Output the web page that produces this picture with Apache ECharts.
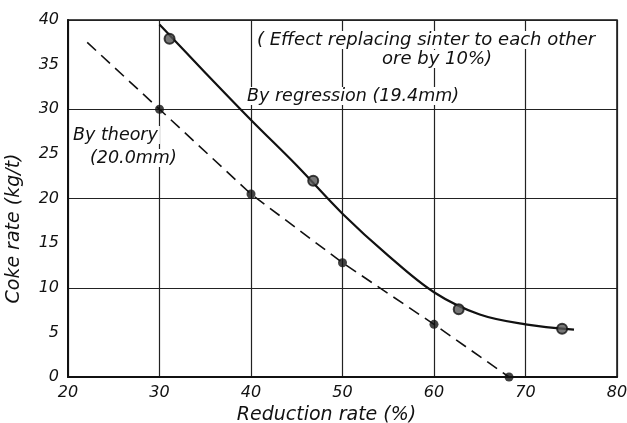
<!DOCTYPE html>
<html><head><meta charset="utf-8">
<script src="https://cdn.jsdelivr.net/npm/echarts@6/dist/echarts.min.js"></script>
<style>html,body{margin:0;padding:0;background:#fff}#c{width:627px;height:423px}</style>
</head><body><div id="c"></div>
<script>
// Data
const xTicks = [20, 30, 40, 50, 60, 70, 80];
const yTicks = [0, 5, 10, 15, 20, 25, 30, 35, 40];
// By theory (20.0 mm): dashed line and its measured points
const theoryLine = [[22.1, 37.5], [30, 30.0], [40, 20.5], [50, 12.8], [60, 5.9], [68.2, 0]];
const theoryPoints = [[30, 30.0], [40, 20.5], [50, 12.8], [60, 5.9], [68.2, 0]];
// By regression (19.4 mm): solid curve read along the picture, and its points
const regressionLine = [[30, 39.5], [35, 34.1], [40, 28.8], [45, 23.7], [50, 18.3], [55, 13.6], [60, 9.5], [65, 7.0], [70, 5.9], [75.3, 5.3]];
const regressionPoints = [[31.1, 37.9], [46.8, 22.0], [62.7, 7.6], [74.0, 5.4]];

const FONT = 'DejaVu Sans';
const chart = echarts.init(document.getElementById('c'), null, {renderer: 'canvas'});
const txt = (text, left, top, size) => ({
  type: 'text', left: left, top: top, z: 1,
  style: {text: text, font: 'italic ' + size + 'px "' + FONT + '"', fill: '#111',
          backgroundColor: '#fff', padding: [0, 2, 0, 2]}
});
chart.setOption({
  backgroundColor: '#fff',
  animation: false,
  grid: {left: 68, right: 10, top: 20, bottom: 46, outerBoundsMode: 'none', containLabel: false,
         show: true, borderColor: '#111', borderWidth: 1.5, backgroundColor: 'transparent'},
  xAxis: {
    type: 'value', min: xTicks[0], max: xTicks[xTicks.length - 1], interval: 10,
    axisLine: {lineStyle: {color: '#111', width: 2}},
    axisTick: {show: false},
    axisLabel: {color: '#111', fontSize: 16, fontStyle: 'italic', fontFamily: FONT, margin: 8},
    splitLine: {show: true, lineStyle: {color: '#222', width: 1.2}},
    name: 'Reduction rate (%)', nameLocation: 'middle', nameGap: 26,
    nameTextStyle: {color: '#111', fontSize: 19, fontStyle: 'italic', fontFamily: FONT, padding: [0, 32, 0, 0]}
  },
  yAxis: [{
    type: 'value', min: yTicks[0], max: yTicks[yTicks.length - 1], interval: 5,
    axisLine: {show: true, lineStyle: {color: '#111', width: 2}},
    axisTick: {show: false},
    axisLabel: {color: '#111', fontSize: 16, fontStyle: 'italic', fontFamily: FONT, margin: 9},
    splitLine: {show: false},
    name: 'Coke rate (kg/t)', nameLocation: 'middle', nameGap: 44, nameRotate: 90,
    nameTextStyle: {color: '#111', fontSize: 19, fontStyle: 'italic', fontFamily: FONT, padding: [0, 60, 0, 0]}
  }, {
    type: 'value', min: 0, max: 40, interval: 10, position: 'left',
    axisLine: {show: false}, axisTick: {show: false}, axisLabel: {show: false},
    splitLine: {show: true, lineStyle: {color: '#222', width: 1.2}}
  }],
  graphic: [
    txt('( Effect replacing sinter to each other', 255, 31, 18),
    txt('ore by 10%)', 380, 50, 18),
    txt('By regression (19.4mm)', 245, 87, 17.5),
    txt('By theory', 71, 126, 17.5),
    txt('(20.0mm)', 88, 149, 17.5)
  ],
  series: [
    {type: 'line', data: theoryLine, showSymbol: false, symbol: 'none', z: 3,
     lineStyle: {color: '#111', width: 1.6, type: [12, 7]}},
    {type: 'line', data: regressionLine, smooth: 0.35, showSymbol: false, symbol: 'none', z: 3,
     lineStyle: {color: '#111', width: 2.2}},
    {type: 'scatter', data: theoryPoints, symbol: 'circle', symbolSize: 9, z: 4,
     itemStyle: {color: '#111'}},
    {type: 'scatter', data: regressionPoints, symbol: 'circle', symbolSize: 10, z: 4,
     itemStyle: {color: '#555', borderColor: '#111', borderWidth: 2}}
  ]
});
</script></body></html>
